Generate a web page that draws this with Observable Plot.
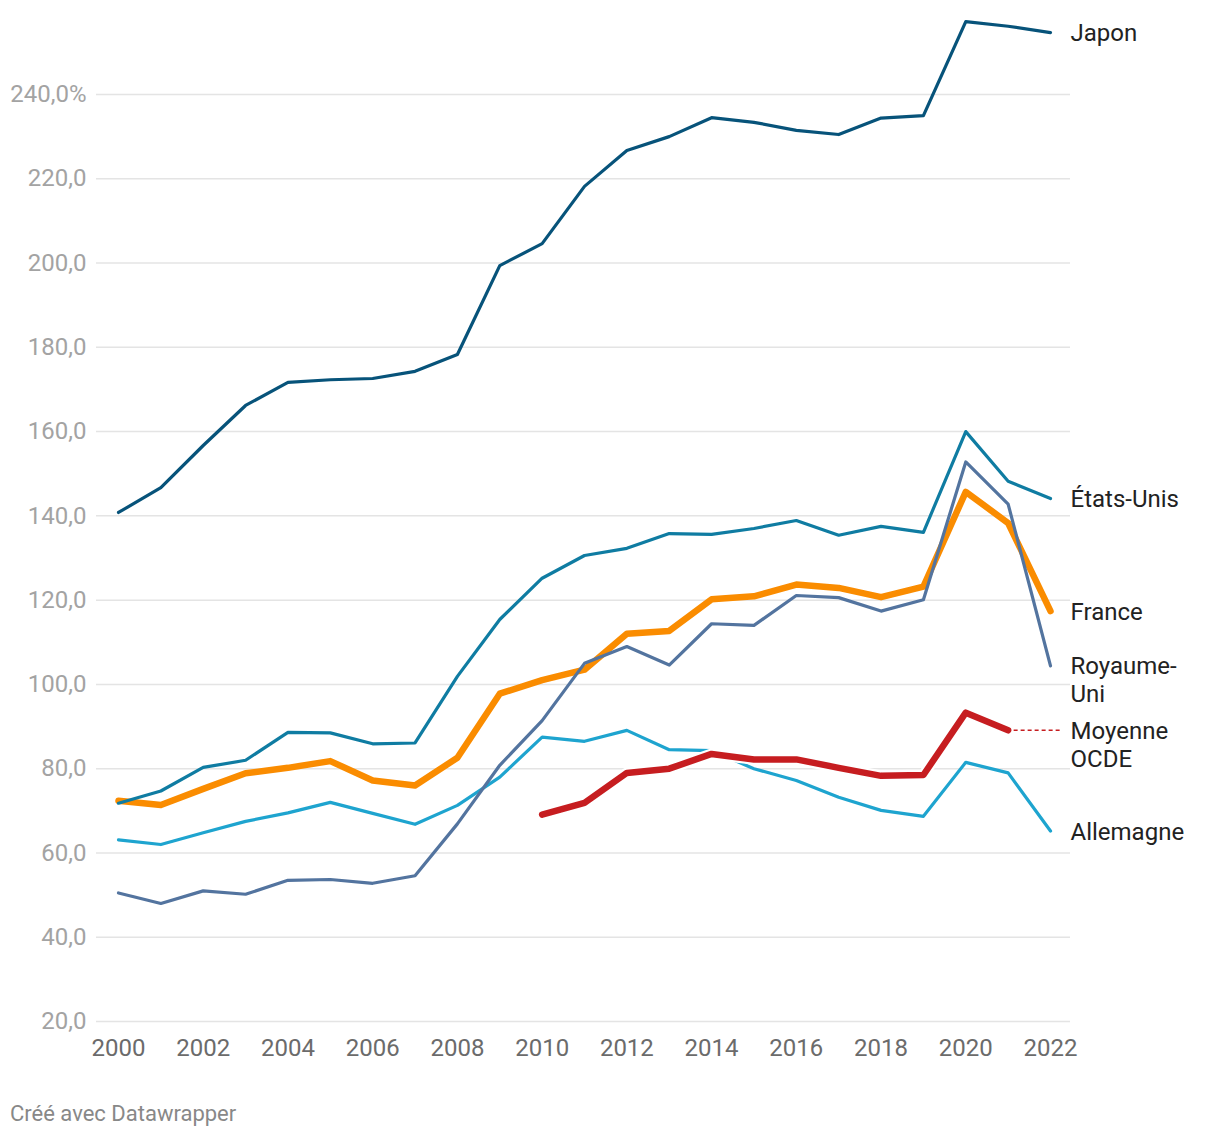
<!DOCTYPE html>
<html>
<head>
<meta charset="utf-8">
<script src="https://cdn.jsdelivr.net/npm/d3@7"></script>
<script src="https://cdn.jsdelivr.net/npm/@observablehq/plot@0.6"></script>
<style>
  html, body { margin: 0; padding: 0; background: #fff; }
  body { position: relative; width: 1220px; height: 1138px; font-family: Roboto, sans-serif; }
  #chart { position: absolute; left: 0; top: 0; }
  #caption { position: absolute; left: 10px; top: 1101px; font-family: Roboto, sans-serif; font-size: 22px; color: #888888; }
</style>
</head>
<body>
<div id="chart"></div>
<div id="caption">Créé avec Datawrapper</div>
<script>
// ---- Data ----
const years = [2000, 2001, 2002, 2003, 2004, 2005, 2006, 2007, 2008, 2009, 2010, 2011,
               2012, 2013, 2014, 2015, 2016, 2017, 2018, 2019, 2020, 2021, 2022];

const japon = [140.8, 146.7, 156.7, 166.2, 171.7, 172.3, 172.6, 174.3, 178.3, 199.4, 204.6, 218.2,
               226.7, 230.0, 234.5, 233.4, 231.5, 230.5, 234.4, 235.0, 257.3, 256.2, 254.7];

const etatsUnis = [71.8, 74.7, 80.3, 82.0, 88.6, 88.5, 85.9, 86.1, 101.9, 115.4, 125.2, 130.6,
                   132.3, 135.8, 135.6, 137.0, 138.9, 135.4, 137.5, 136.1, 160.0, 148.2, 144.1];

const france = [72.4, 71.4, 75.2, 78.9, 80.2, 81.8, 77.2, 76.0, 82.6, 97.8, 101.0, 103.5,
                112.0, 112.7, 120.2, 120.9, 123.7, 122.9, 120.7, 123.2, 145.7, 138.3, 117.4];

const royaumeUni = [50.5, 48.0, 51.0, 50.2, 53.5, 53.7, 52.8, 54.6, 66.9, 80.8, 91.4, 105.0,
                    109.0, 104.6, 114.4, 114.0, 121.1, 120.6, 117.4, 120.1, 152.8, 142.8, 104.4];

const allemagne = [63.1, 62.0, 64.8, 67.5, 69.5, 72.0, 69.4, 66.8, 71.3, 78.0, 87.5, 86.5,
                   89.1, 84.5, 84.3, 80.0, 77.2, 73.2, 70.1, 68.7, 81.5, 79.0, 65.2];

const yearsOCDE = [2010, 2011, 2012, 2013, 2014, 2015, 2016, 2017, 2018, 2019, 2020, 2021];
const moyenneOCDE = [69.1, 71.9, 79.0, 80.0, 83.5, 82.2, 82.2, 80.2, 78.3, 78.5, 93.3, 89.1];

const yTicks = [20, 40, 60, 80, 100, 120, 140, 160, 180, 200, 220, 240];
const xTicks = [2000, 2002, 2004, 2006, 2008, 2010, 2012, 2014, 2016, 2018, 2020, 2022];

const seriesNames = ["Japon", "États-Unis", "France", "Royaume-Uni", "Moyenne OCDE", "Allemagne"];
const seriesLabels = ["Japon", "États-Unis", "France", "Royaume-\nUni", "Moyenne\nOCDE", "Allemagne"];
const seriesColors = ["#07537a", "#0f7ca2", "#fa8c00", "#53749f", "#c61d20", "#1ea4cf"];

// ---- Build tables ----
const toRows = (xs, vs) => xs.map((x, i) => ({year: x, value: vs[i]}));
const rows = {
  "Japon": toRows(years, japon),
  "États-Unis": toRows(years, etatsUnis),
  "France": toRows(years, france),
  "Royaume-Uni": toRows(years, royaumeUni),
  "Moyenne OCDE": toRows(yearsOCDE, moyenneOCDE),
  "Allemagne": toRows(years, allemagne)
};
const colorOf = Object.fromEntries(seriesNames.map((n, i) => [n, seriesColors[i]]));

const labelRows = seriesNames.map((n, i) => {
  const r = rows[n];
  return {name: n, label: seriesLabels[i], year: 2022, value: r[r.length - 1].value};
});
const ocdeLast = rows["Moyenne OCDE"][rows["Moyenne OCDE"].length - 1];

const fmtY = d => (d === 240 ? d.toFixed(1).replace(".", ",") + "%" : d.toFixed(1).replace(".", ","));

const thin = (n) => Plot.line(rows[n], {x: "year", y: "value", stroke: colorOf[n], strokeWidth: 3.2,
  strokeLinejoin: "round", strokeLinecap: "round"});

const chart = Plot.plot({
  width: 1220,
  height: 1090,
  marginLeft: 96,
  marginRight: 150,
  marginTop: 94,
  marginBottom: 69,
  style: {fontFamily: "Roboto, sans-serif", background: "#fff"},
  x: {domain: [2000, 2022], insetLeft: 22, insetRight: 20, label: null},
  y: {domain: [20, 240], label: null},
  marks: [
    Plot.gridY(yTicks, {stroke: "#e4e4e4", strokeOpacity: 1, strokeWidth: 1.5}),
    Plot.axisY(yTicks, {tickFormat: fmtY, tickSize: 0, tickPadding: 10, fontSize: 24, fill: "#a3a3a3", label: null}),
    Plot.axisX(xTicks, {tickFormat: d => String(d), tickSize: 0, tickPadding: 17, fontSize: 24, fill: "#6b6b6b", label: null}),
    Plot.line(rows["France"], {x: "year", y: "value", stroke: colorOf["France"], strokeWidth: 6.5,
      strokeLinejoin: "round", strokeLinecap: "round"}),
    thin("Allemagne"),
    thin("Royaume-Uni"),
    thin("États-Unis"),
    thin("Japon"),
    Plot.line(rows["Moyenne OCDE"], {x: "year", y: "value", stroke: "#ffffff", strokeWidth: 11,
      strokeLinejoin: "round", strokeLinecap: "round"}),
    Plot.line(rows["Moyenne OCDE"], {x: "year", y: "value", stroke: colorOf["Moyenne OCDE"], strokeWidth: 6.5,
      strokeLinejoin: "round", strokeLinecap: "round"}),
    Plot.ruleY([ocdeLast], {x1: 2021, x2: 2022, y: "value", stroke: colorOf["Moyenne OCDE"], strokeWidth: 1.5,
      strokeDasharray: "4,3", insetLeft: 6, insetRight: -12}),
    Plot.text(labelRows, {x: "year", y: "value", text: "label", dx: 20, dy: -11, textAnchor: "start",
      lineAnchor: "top", lineHeight: 1.15, fontSize: 24, fill: "#222222"})
  ]
});
document.getElementById("chart").appendChild(chart);
</script>
</body>
</html>
